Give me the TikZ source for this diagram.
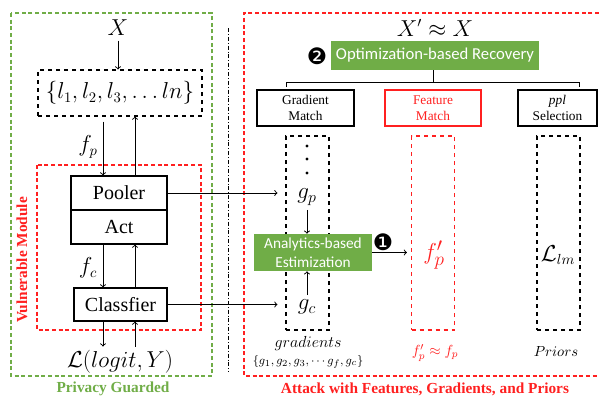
\documentclass[tikz,border=0pt]{standalone}
\usepackage{fontspec}
\setmainfont{Liberation Serif}
\newfontfamily\calibri{Carlito}
\newfontfamily\dingfont{DejaVu Sans}
\definecolor{grn}{HTML}{70AD47}
\definecolor{rd}{HTML}{FF2020}
\tikzset{
  box/.style={draw, line width=0.8pt, inner sep=0pt},
  dbox/.style={draw, dashed, line width=0.8pt, inner sep=0pt},
  gbox/.style={fill=grn, text=white, inner sep=0pt, align=center},
  arr/.style={->, line width=0.7pt},
}
\begin{document}
\begin{tikzpicture}[x=0.75pt,y=-0.75pt]
\useasboundingbox (0,0) rectangle (599,396);
% left: privacy guarded side
\draw[grn, line width=0.8pt, dash pattern=on 3pt off 2pt] (11,13) rectangle (212,376);
\draw[rd, line width=0.8pt, dash pattern=on 3pt off 2pt] (37,165) rectangle (201,330);
\node (X) at (118,28) {\fontsize{16}{18}\selectfont $X$};
\node[dbox, minimum width=123pt, minimum height=34.5pt] (lset) at (120,93) {\fontsize{16}{18}\selectfont $\{l_1, l_2, l_3, \ldots ln\}$};
\node[box, minimum width=72pt, minimum height=25.5pt, font=\fontsize{15}{17}\selectfont] (pooler) at (119,193) {Pooler};
\node[box, minimum width=72pt, minimum height=25.5pt, font=\fontsize{15}{17}\selectfont] (act) at (119,227) {Act};
\node[box, minimum width=69.75pt, minimum height=24.75pt, font=\fontsize{15}{17}\selectfont] (cls) at (120.5,304.5) {Classfier};
\node (loss) at (120,362) {\fontsize{16}{18}\selectfont $\mathcal{L}(logit, Y)$};
\coordinate (pd) at (103,0);
\coordinate (pu) at (135,0);
\draw[arr] (X) -- (X |- lset.north);
\draw[arr] (lset.south -| pd) ++(0,5) -- (pooler.north -| pd);
\draw[arr] (pooler.north -| pu) -- (lset.south -| pu);
\draw[arr] (act.south -| pd) -- (cls.north -| pd);
\draw[arr] (cls.north -| pu) -- (act.south -| pu);
\draw[arr] (cls.south -| pd) -- ++(0,25);
\draw[arr] (cls.south -| pu) ++(0,25) -- (cls.south -| pu);
\node at (88,147) {\fontsize{16}{18}\selectfont $f_p$};
\node at (88,268) {\fontsize{16}{18}\selectfont $f_c$};
\node[rd, rotate=90, font=\bfseries\fontsize{11.5}{13}\selectfont] at (22,260) {Vulnerable Module};
\node[grn, font=\bfseries\fontsize{11.5}{13}\selectfont] at (113,389) {Privacy Guarded};
\draw[line width=0.6pt, dash pattern=on 3pt off 1.5pt on 0.6pt off 1.5pt] (228,28) -- (228,372);
% right: attack side
\draw[rd, line width=0.8pt, dash pattern=on 3pt off 2pt] (599,13) -- (244,13) -- (244,376) -- (599,376);
\node[rd, font=\bfseries\fontsize{11.5}{13}\selectfont] at (425,389) {Attack with Features, Gradients, and Priors};
\node (xp) at (435,28) {\fontsize{16}{18}\selectfont $X' \approx X$};
\node[gbox, minimum width=156pt, minimum height=21.75pt, font=\calibri\fontsize{12.5}{15}\selectfont] (opt) at (435,55.5) {Optimization-based Recovery};
\node[font=\dingfont\fontsize{17}{19}\selectfont] (b2) at (317,56) {❷};
\node[box, minimum width=72.75pt, minimum height=27pt, align=center, font=\fontsize{10}{12}\selectfont] (gm) at (305.5,108) {Gradient\\Match};
\node[box, draw=rd, text=rd, minimum width=72pt, minimum height=27pt, align=center, font=\fontsize{10}{12}\selectfont] (fm) at (433,108) {Feature\\Match};
\node[box, minimum width=59.25pt, minimum height=27pt, align=center, font=\fontsize{10}{12}\selectfont] (ps) at (557.5,108) {\textit{ppl}\\Selection};
\draw[line width=0.7pt] (opt.south -| 433,0) -- (433,82);
\draw[line width=0.7pt] (286,87) -- (286,82) -- (579,82) -- (579,87);
\node[dbox, minimum width=32.25pt, minimum height=145.5pt] (gcol) at (307.5,233) {};
\node[dbox, draw=rd, minimum width=32.25pt, minimum height=145.5pt] (fcol) at (433,233) {};
\node[dbox, minimum width=32.25pt, minimum height=145.5pt] (pcol) at (558.5,233) {};
\foreach \y in {146,159,173} \fill (307,\y) circle (1.6);
\node (gp) at (307,197) {\fontsize{17}{19}\selectfont $g_p$};
\node (gc) at (307,307) {\fontsize{17}{19}\selectfont $g_c$};
\node[gbox, minimum width=88.5pt, minimum height=27.75pt, font=\calibri\fontsize{11.5}{14}\selectfont] (ana) at (313,252.5) {Analytics-based\\Estimization};
\node[font=\dingfont\fontsize{17}{19}\selectfont] (b1) at (383,242) {❶};
\draw[arr] (gp.south) -- (ana.north -| gp);
\draw[arr] (gc.north) -- (ana.south -| gc);
\draw[arr, shorten >=3pt] (ana.east) -- (ana.east -| fcol.west);
\draw[arr, shorten >=6pt] (pooler.east) -- (pooler.east -| gcol.west);
\draw[arr, shorten >=6pt] (cls.east) -- (cls.east -| gcol.west);
\node[rd] (fpp) at (434,255) {\fontsize{19}{21}\selectfont $f'_p$};
\node (llm) at (558,255) {\fontsize{16}{18}\selectfont $\mathcal{L}_{lm}$};
\node at (308,343) {\fontsize{12}{14}\selectfont $gradients$};
\node at (308,362) {\fontsize{9.5}{11}\selectfont $\{g_1, g_2, g_3, \cdots g_f, g_c\}$};
\node[rd] at (435,353) {\fontsize{11}{13}\selectfont $f'_p \approx f_p$};
\node at (556,352) {\fontsize{11}{13}\selectfont $Priors$};
\end{tikzpicture}
\end{document}
